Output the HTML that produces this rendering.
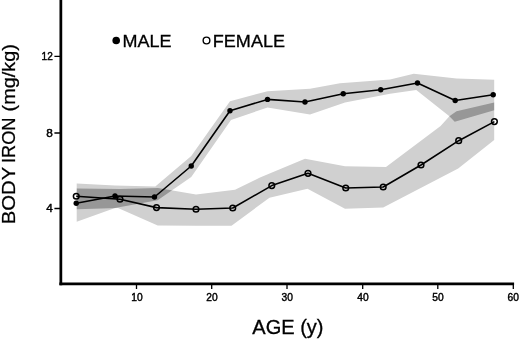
<!DOCTYPE html>
<html>
<head>
<meta charset="utf-8">
<style>
html,body{margin:0;padding:0;background:#fff;}
body{width:520px;height:340px;overflow:hidden;font-family:"Liberation Sans",sans-serif;}
svg{display:block;will-change:transform;}
text{font-family:"Liberation Sans",sans-serif;fill:#000;}
</style>
</head>
<body>
<svg width="520" height="340" viewBox="0 0 520 340">
<rect width="520" height="340" fill="#fff"/>
<!-- bands -->
<defs><clipPath id="mc"><polygon points="76.7,183.4 115,185.4 155.3,186.4 191.25,156 230,101.25 267.5,91.25 310,88.75 340,83.25 390,79.5 413.75,73.75 456.5,78.5 494.2,79.7 494.2,110.3 454.7,121.8 449.4,116.2 416.25,90 390,93.75 345,102.5 310,114.5 267.5,107.5 231,120 191.25,177 157.6,200.3 115,208 76.7,221.7"/></clipPath></defs>
<polygon id="mb" fill="#d0d0d0" points="76.7,183.4 115,185.4 155.3,186.4 191.25,156 230,101.25 267.5,91.25 310,88.75 340,83.25 390,79.5 413.75,73.75 456.5,78.5 494.2,79.7 494.2,110.3 454.7,121.8 449.4,116.2 416.25,90 390,93.75 345,102.5 310,114.5 267.5,107.5 231,120 191.25,177 157.6,200.3 115,208 76.7,221.7"/>
<polygon id="fb" fill="#d0d0d0" points="76.7,188.5 120,189 158,188 196,194.5 235,189.8 260,177.5 305,158.75 345,166.25 386,167 440.6,126 449.4,116.2 456.5,111.2 494.2,102.6 494.2,140 458.2,168.5 383.2,207.6 345,208.75 307.5,188.75 269.5,197.7 231.5,225.7 196,225.7 157.7,225.6 118,208 76.7,209.2"/>
<g clip-path="url(#mc)"><polygon id="ob" fill="#979797" points="76.7,188.5 120,189 158,188 196,194.5 235,189.8 260,177.5 305,158.75 345,166.25 386,167 440.6,126 449.4,116.2 456.5,111.2 494.2,102.6 494.2,140 458.2,168.5 383.2,207.6 345,208.75 307.5,188.75 269.5,197.7 231.5,225.7 196,225.7 157.7,225.6 118,208 76.7,209.2"/></g>
<!-- axes -->
<g stroke="#000" fill="none">
<path d="M60.85,0 V285.3" stroke-width="2.75"/><path d="M59.4,283.9 H514.1" stroke-width="2.8"/>
<g stroke-width="1.3">
<path d="M54.4,56.4H60 M54.4,133H60 M54.4,208.5H60"/>
<path d="M136.5,284V289 M211.7,284V289 M287,284V289 M362.7,284V289 M437.8,284V289 M513.3,284V289"/>
</g>
</g>
<!-- lines -->
<g stroke="#000" stroke-width="1.6" fill="none" stroke-linejoin="round">
<polyline points="76.25,203.25 115,196 154.5,197 191.25,166 230,110.75 267.5,99.4 305,102 343.25,93.75 380.75,89.75 417.5,83 455.2,100.5 493.2,94.7"/>
<polyline points="76.25,196.25 120,199.25 156.5,207.6 196,209.25 232.75,208 271.8,185.6 308,173.25 345.75,188 383.2,187 421,165 458.7,140.7 494.4,121.6"/>
</g>
<!-- male markers -->
<g fill="#000">
<circle cx="76.25" cy="203.25" r="2.7"/><circle cx="115" cy="196" r="2.7"/><circle cx="154.5" cy="197" r="2.7"/><circle cx="191.25" cy="166" r="2.7"/><circle cx="230" cy="110.75" r="2.7"/><circle cx="267.5" cy="99.4" r="2.7"/><circle cx="305" cy="102" r="2.7"/><circle cx="343.25" cy="93.75" r="2.7"/><circle cx="380.75" cy="89.75" r="2.7"/><circle cx="417.5" cy="83" r="2.7"/><circle cx="455.2" cy="100.5" r="2.7"/><circle cx="493.2" cy="94.7" r="2.7"/>
</g>
<!-- female markers -->
<g fill="none" stroke="#000" stroke-width="1.5">
<circle cx="76.25" cy="196.25" r="2.85"/><circle cx="120" cy="199.25" r="2.85"/><circle cx="156.5" cy="207.6" r="2.85"/><circle cx="196" cy="209.25" r="2.85"/><circle cx="232.75" cy="208" r="2.85"/><circle cx="271.8" cy="185.6" r="2.85"/><circle cx="308" cy="173.3" r="2.85"/><circle cx="345.75" cy="188" r="2.85"/><circle cx="383.2" cy="187" r="2.85"/><circle cx="421" cy="165" r="2.85"/><circle cx="458.7" cy="140.7" r="2.85"/><circle cx="494.4" cy="121.6" r="2.85"/>
</g>
<!-- legend -->
<circle cx="116.2" cy="40.5" r="3.8" fill="#000"/>
<text x="122.6" y="46.6" font-size="17.2" stroke="#000" stroke-width="0.3" textLength="49" lengthAdjust="spacingAndGlyphs">MALE</text>
<circle cx="206.5" cy="40.5" r="3.35" fill="#fff" stroke="#000" stroke-width="1.4"/>
<text x="212.8" y="46.6" font-size="17.2" stroke="#000" stroke-width="0.3" textLength="72.2" lengthAdjust="spacingAndGlyphs">FEMALE</text>
<!-- tick labels -->
<g font-size="11.8" text-anchor="end" stroke="#000" stroke-width="0.45">
<text x="52.8" y="60.2" textLength="11.2" lengthAdjust="spacingAndGlyphs">12</text>
<text x="52.7" y="137">8</text>
<text x="52.7" y="212.4">4</text>
</g>
<g font-size="11.8" stroke="#000" stroke-width="0.45">
<text x="131.3" y="301.2" textLength="11.4" lengthAdjust="spacingAndGlyphs">10</text>
<text x="206.3" y="301.2" textLength="11.4" lengthAdjust="spacingAndGlyphs">20</text>
<text x="281.6" y="301.2" textLength="11.4" lengthAdjust="spacingAndGlyphs">30</text>
<text x="357.3" y="301.2" textLength="11.4" lengthAdjust="spacingAndGlyphs">40</text>
<text x="432.3" y="301.2" textLength="11.4" lengthAdjust="spacingAndGlyphs">50</text>
<text x="507.5" y="301.2" textLength="11.4" lengthAdjust="spacingAndGlyphs">60</text>
</g>
<!-- axis labels -->
<text x="252.3" y="333.6" font-size="19.3" stroke="#000" stroke-width="0.3" textLength="71.2" lengthAdjust="spacingAndGlyphs">AGE (y)</text>
<g transform="translate(15.4,0) rotate(-90)" font-size="17.6" stroke="#000" stroke-width="0.25">
<text x="-224.3" y="0" textLength="57.5" lengthAdjust="spacingAndGlyphs">BODY</text>
<text x="-163" y="0" textLength="45.5" lengthAdjust="spacingAndGlyphs">IRON</text>
<text x="-111.5" y="0" textLength="67.5" lengthAdjust="spacingAndGlyphs">(mg/kg)</text>
</g>
</svg>
</body>
</html>
